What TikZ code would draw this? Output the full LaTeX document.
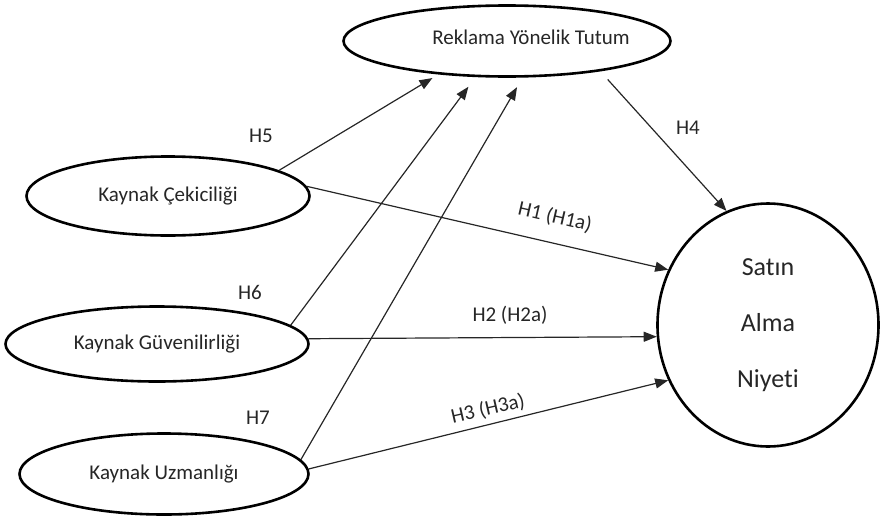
\documentclass[tikz,border=0pt]{standalone}
\usepackage{fontspec}
\setmainfont{Carlito}[Ligatures=NoCommon]
\usetikzlibrary{shapes.geometric,arrows.meta}

\begin{document}
\begin{tikzpicture}[x=1pt,y=-1pt,
    construct/.style={draw=black, line width=2.6pt, ellipse, inner sep=0pt, text=black!85, font=\fontsize{21}{25}\selectfont},
    hyp/.style={draw=black!85, line width=1.2pt, -{Triangle[length=13pt,width=10pt]}},
    hlabel/.style={text=black!85, font=\fontsize{21}{25}\selectfont}]
  \useasboundingbox (0,0) rectangle (880,522);

  % constructs
  \node[construct, minimum width=327pt, minimum height=71pt,
        label={[hlabel,xshift=24pt,yshift=4pt]center:Reklama Yönelik Tutum}] (rt) at (507,41) {};
  \node[construct, minimum width=283pt, minimum height=79pt] (kc) at (168,196) {Kaynak Çekiciliği};
  \node[construct, minimum width=303pt, minimum height=75pt] (kg) at (157,344) {Kaynak Güvenilirliği};
  \node[construct, minimum width=289pt, minimum height=81pt] (ku) at (164,474) {Kaynak Uzmanlığı};
  \node[construct, minimum width=221pt, minimum height=243pt, align=center,
        font=\fontsize{26}{56}\selectfont] (san) at (768,325) {Satın\\Alma\\Niyeti};

  % hypotheses
  \draw[hyp, shorten >=7pt] (kc.13) -- (rt.206);
  \draw[hyp, shorten >=12pt] (kg.8) -- (rt.229);
  \draw[hyp, shorten >=11pt] (ku.6) -- (rt.293);
  \draw[hyp, shorten <=11pt] (rt.342) -- (san.110);
  \draw[hyp] (kc.4) -- (san.151);
  \draw[hyp] (kg.2) -- (san.186);
  \draw[hyp] (ku.2.5) -- (san.209);

  \node[hlabel] (h5) at (261,136) {H5};
  \node[hlabel] (h6) at (250,292) {H6};
  \node[hlabel] (h7) at (258,418) {H7};
  \node[hlabel] (h4) at (688,128) {H4};
  \node[hlabel, rotate=-13] (h1) at (555,217) {H1 (H1a)};
  \node[hlabel] (h2) at (510,315) {H2 (H2a)};
  \node[hlabel, rotate=13] (h3) at (488,409) {H3 (H3a)};
\end{tikzpicture}
\end{document}
